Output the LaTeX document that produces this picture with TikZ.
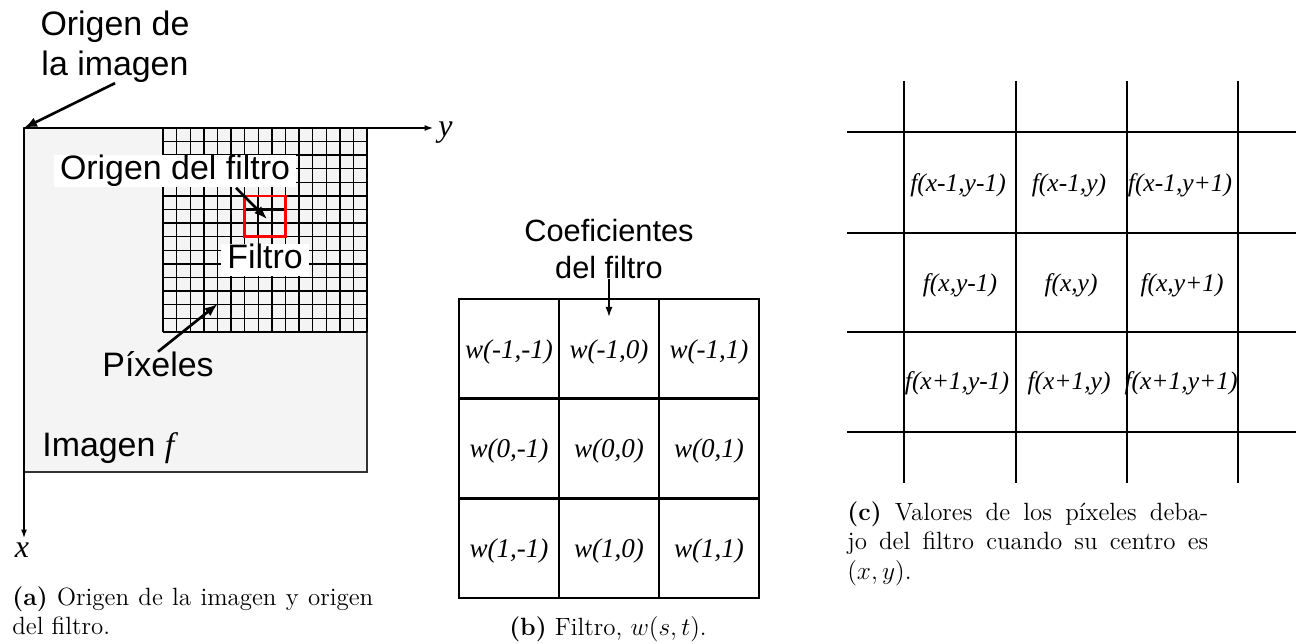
\documentclass[tikz,border=0pt]{standalone}
\usepackage{fontspec}
\newfontfamily\arialfont{Liberation Sans}
\newfontfamily\tmsfont{Liberation Serif}
\usetikzlibrary{arrows.meta}
\definecolor{imggray}{RGB}{244,244,244}

\tikzset{
  sans/.style={font=\arialfont\fontsize{19.3}{22.8}\selectfont, align=center, inner sep=0pt},
  sanssm/.style={font=\arialfont\fontsize{17.5}{21}\selectfont, align=center, inner sep=0pt},
  tag/.style={sans, fill=white, inner xsep=0.12cm, text height=0.5cm, text depth=0.15cm},
  axlbl/.style={font=\tmsfont\itshape\fontsize{18.2}{20}\selectfont, inner sep=0pt},
  wlbl/.style={font=\tmsfont\itshape\fontsize{15.4}{18}\selectfont, inner sep=0pt},
  flbl/.style={font=\tmsfont\itshape\fontsize{14.5}{17}\selectfont, inner sep=0pt},
  capt/.style={font=\fontsize{14.2}{17}\selectfont, inner sep=0pt, anchor=north west, align=justify, text width=7.22cm},
  ann/.style={-{Latex[length=0.26cm,width=0.2cm]}, line width=1.5pt},
  axis/.style={-{Latex[length=0.17cm,width=0.12cm]}, line width=0.7pt},
  pxgrid/.style={line width=0.8pt},
  coefln/.style={line width=1.5pt, line cap=rect},
  nbrln/.style={line width=1pt}
}

\begin{document}
\begin{tikzpicture}[x=0.02cm, y=-0.02cm]
  \useasboundingbox (0,0) rectangle (1304,644);

  % (a) imagen, pixeles y filtro
  \fill[imggray, draw=black!80, line width=0.6pt] (24,128) rectangle (367,472);
  \foreach \i in {0,...,15} {
    \draw[pxgrid] ({163+13.6*\i},128) -- ({163+13.6*\i},332);
    \draw[pxgrid] (163,{128+13.6*\i}) -- (367,{128+13.6*\i});
  }
  \foreach \i in {1,2} {
    \draw[line width=1.3pt] ({244.6+13.6*\i},196) -- ++(0,40.8);
    \draw[line width=1.3pt] (244.6,{196+13.6*\i}) -- ++(40.8,0);
  }
  \draw[red, line width=1.7pt] (244.6,196) rectangle (285.4,236.8);
  \coordinate (fcen) at (267,219);
  \coordinate (pixpt) at (217.6,304);

  \coordinate (O) at (24,128);
  \coordinate (yend) at (433,128);
  \coordinate (xend) at (24,538);
  \draw[axis] (O) -- (yend);
  \draw[axis] (O) -- (xend);
  \node[axlbl, anchor=base west] (ylab) at (438,137) {y};
  \node[axlbl, anchor=base] (xlab) at (22,558) {x};

  \node[sans] (oimg) at (115,47) {Origen de\\la imagen};
  \node[tag, anchor=base] (ofilt) at (175,180) {Origen del filtro};
  \node[tag, anchor=base] (filtro) at (265,269) {Filtro};
  \node[sans, anchor=base] (pix) at (158,377) {Píxeles};
  \node[sans, anchor=base west] (imgf) at (42,457) {Imagen {\tmsfont\itshape f}};

  \draw[ann] (oimg.south) -- (O);
  \draw[ann] ([xshift=1.22cm]ofilt.south) -- (fcen);
  \draw[ann] (pix.north) -- (pixpt);

  \node[capt] (capa) at (12,586) {\textbf{(a)} Origen de la imagen y origen\linebreak del filtro.};

  % (b) coeficientes del filtro
  \foreach \i in {0,...,3} {
    \draw[coefln] ({459+100*\i},299) -- ({459+100*\i},598);
    \draw[coefln] (459,{299+99.7*\i}) -- (759,{299+99.7*\i});
  }
  \node[sanssm] (coef) at (609,249) {Coeficientes\\del filtro};
  \coordinate (wtop) at (609,317);
  \draw[-{Latex[length=0.2cm,width=0.14cm]}, line width=0.9pt] (coef.south) -- (wtop);

  \node[wlbl] (w11) at (509,352) {w(-1,-1)};
  \node[wlbl] (w12) at (609,352) {w(-1,0)};
  \node[wlbl] (w13) at (709,352) {w(-1,1)};
  \node[wlbl] (w21) at (509,451) {w(0,-1)};
  \node[wlbl] (w22) at (609,451) {w(0,0)};
  \node[wlbl] (w23) at (709,451) {w(0,1)};
  \node[wlbl] (w31) at (509,551) {w(1,-1)};
  \node[wlbl] (w32) at (609,551) {w(1,0)};
  \node[wlbl] (w33) at (709,551) {w(1,1)};

  \node[font=\fontsize{14.2}{17}\selectfont, inner sep=0pt, anchor=base] (capb) at (608,635) {\textbf{(b)} Filtro, $w(s,t)$.};

  % (c) vecindad de (x,y)
  \foreach \xv in {904,1016,1127,1238}
    \draw[nbrln] (\xv,81) -- (\xv,483);
  \foreach \yv in {132,233,332,432}
    \draw[nbrln] (847,\yv) -- (1296,\yv);

  \node[flbl] (f11) at (958,185) {f(x-1,y-1)};
  \node[flbl] (f12) at (1069,185) {f(x-1,y)};
  \node[flbl] (f13) at (1180,185) {f(x-1,y+1)};
  \node[flbl] (f21) at (960,285) {f(x,y-1)};
  \node[flbl] (f22) at (1071,285) {f(x,y)};
  \node[flbl] (f23) at (1182,285) {f(x,y+1)};
  \node[flbl] (f31) at (957,383) {f(x+1,y-1)};
  \node[flbl] (f32) at (1069,383) {f(x+1,y)};
  \node[flbl] (f33) at (1181,383) {f(x+1,y+1)};

  \node[capt] (capc) at (847,501) {\textbf{(c)} Valores de los píxeles deba-\linebreak jo del filtro cuando su centro es\linebreak $(x,y)$.};
\end{tikzpicture}
\end{document}
